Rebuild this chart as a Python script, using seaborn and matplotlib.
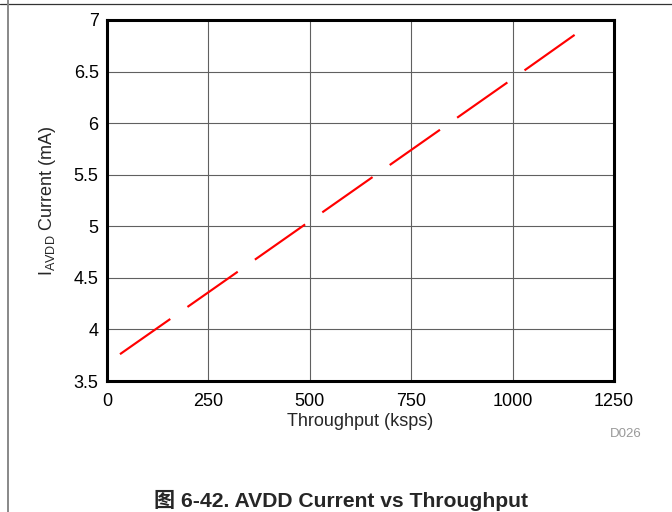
import matplotlib
matplotlib.use("Agg")
import matplotlib.pyplot as plt
import seaborn as sns
import pandas as pd
from matplotlib.lines import Line2D
from matplotlib.ticker import FuncFormatter

# Data
throughput = [32, 250, 500, 750, 1000, 1158]
avdd_current = [3.76, 4.36, 5.05, 5.74, 6.43, 6.87]
x_ticks = [0, 250, 500, 750, 1000, 1250]
y_ticks = [3.5, 4, 4.5, 5, 5.5, 6, 6.5, 7]

sns.set_style("white")
plt.rcParams["font.family"] = ["Liberation Sans", "Noto Sans CJK SC", "DejaVu Sans"]
plt.rcParams["mathtext.fontset"] = "custom"
plt.rcParams["mathtext.rm"] = "Liberation Sans"
plt.rcParams["lines.scale_dashes"] = False

df = pd.DataFrame({"Throughput": throughput, "Current": avdd_current})

fig = plt.figure(figsize=(6.72, 5.12), dpi=100)
ax = fig.add_axes([107 / 672, 1 - 381 / 512, (614 - 107) / 672, (381 - 20) / 512])

sns.lineplot(data=df, x="Throughput", y="Current", color="#ff0000", linewidth=1.55, ax=ax)
for ln in ax.lines:
    ln.set_linestyle((0, (44.2, 15.1)))
    ln.set_dash_capstyle("butt")

ax.set_xlim(0, 1250)
ax.set_ylim(3.5, 7)
ax.set_xticks(x_ticks)
ax.set_yticks(y_ticks)
ax.yaxis.set_major_formatter(FuncFormatter(lambda v, p: f"{v:g}"))
ax.grid(True, color="#606060", linewidth=0.8)
ax.set_axisbelow(True)
for s in ax.spines.values():
    s.set_visible(True)
    s.set_color("black")
    s.set_linewidth(2.2)
ax.tick_params(axis="both", length=0, labelsize=13, colors="black")
ax.tick_params(axis="x", pad=8.5)
ax.tick_params(axis="y", pad=6)

ax.set_xlabel("Throughput (ksps)", fontsize=13)
ax.set_ylabel(r"I$_{\mathregular{AVDD}}$ Current (mA)", fontsize=13)
ax.xaxis.set_label_coords(0.5, -0.09)
ax.yaxis.set_label_coords(-0.096, 0.5)

fig.text(642 / 672, 1 - 434 / 512, "D026", ha="right", va="center",
         fontsize=9.5, color="#999999")
fig.text(341 / 672, 1 - 500 / 512, "图 6-42. AVDD Current vs Throughput",
         ha="center", va="center", fontsize=15.2, fontweight="bold",
         family=["Liberation Sans", "Noto Sans CJK SC"])

fig.add_artist(Line2D([0, 1], [1 - 4 / 512, 1 - 4 / 512], transform=fig.transFigure,
                      color="#333333", linewidth=0.9))
fig.add_artist(Line2D([8 / 672, 8 / 672], [0, 1], transform=fig.transFigure,
                      color="#888888", linewidth=1.4))

fig.savefig("out.png", dpi=100)
